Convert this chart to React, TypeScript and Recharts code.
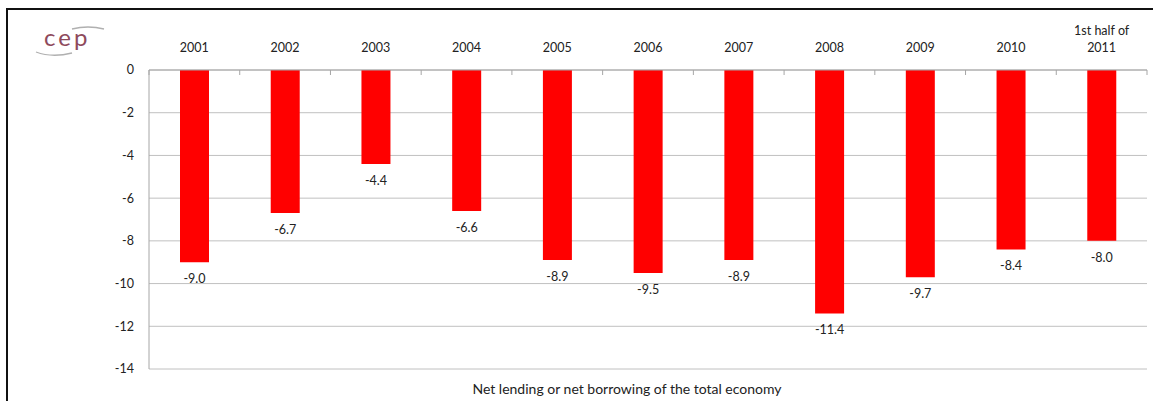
import { BarChart, Bar, XAxis, YAxis, CartesianGrid, LabelList } from 'recharts';

const years = ['2001', '2002', '2003', '2004', '2005', '2006', '2007', '2008', '2009', '2010', '1st half of|2011'];
const netLending = [-9.0, -6.7, -4.4, -6.6, -8.9, -9.5, -8.9, -11.4, -9.7, -8.4, -8.0];
const yTicks = [0, -2, -4, -6, -8, -10, -12, -14];
const chartTitle = 'Net lending or net borrowing of the total economy';

const data = years.map((year, i) => ({ year, value: netLending[i] }));

const FONT = 'Lato, "Open Sans", sans-serif';

// top axis label + boundary tick marks between categories
function YearTick(props: any) {
  const { x, y, payload, index, width, visibleTicksCount } = props;
  const band = width / visibleTicksCount;
  const lines = String(payload.value).split('|');
  const last = index === visibleTicksCount - 1;
  return (
    <g>
      <line x1={x - band / 2} x2={x - band / 2} y1={y} y2={y + 5} stroke="#a6a6a6" />
      {last && <line x1={x + band / 2} x2={x + band / 2} y1={y} y2={y + 5} stroke="#a6a6a6" />}
      {lines.map((l, i) => (
        <text
          key={i}
          x={x}
          y={y - 18 - (lines.length - 1 - i) * 17}
          textAnchor="middle"
          fontSize={12.5}
          fontFamily={FONT}
          fill="#222"
        >
          {l}
        </text>
      ))}
    </g>
  );
}

function ValueLabel(props: any) {
  const { x, y, width, height, value } = props;
  const bottom = Math.max(y, y + height);
  return (
    <text
      x={x + width / 2}
      y={bottom + 21}
      textAnchor="middle"
      fontSize={12.5}
      fontFamily={FONT}
      fill="#222"
    >
      {Number(value).toFixed(1)}
    </text>
  );
}

export default function App() {
  return (
    <div style={{ position: 'absolute', left: 0, top: 0, width: 1153, height: 401, background: '#fff', overflow: 'hidden' }}>
      {/* frame: top and left edges only */}
      <div style={{ position: 'absolute', left: 6, top: 8, width: 1147, height: 2, background: '#111' }} />
      <div style={{ position: 'absolute', left: 6, top: 8, width: 2, height: 393, background: '#111' }} />
      {/* logo */}
      <svg style={{ position: 'absolute', left: 30, top: 20 }} width={80} height={42}>
        <path d="M 42 9 Q 58 5 74 9" stroke="#b0b0b0" strokeWidth={1.3} fill="none" />
        <text x={14} y={26} fontSize={24} fontFamily={FONT} fill="#8e4a5c" letterSpacing={3}>cep</text>
        <path d="M 6 32 Q 22 38 42 33" stroke="#b0b0b0" strokeWidth={1.3} fill="none" />
      </svg>
      <BarChart
        width={1153}
        height={401}
        data={data}
        margin={{ top: 0, right: 6, bottom: 32, left: 0 }}
        style={{ position: 'absolute', left: 0, top: 0 }}
      >
        <CartesianGrid vertical={false} stroke="#c0c0c0" />
        <XAxis
          dataKey="year"
          orientation="top"
          height={70}
          interval={0}
          tickLine={false}
          tickSize={0}
          tickMargin={0}
          axisLine={{ stroke: '#a6a6a6' }}
          tick={<YearTick />}
        />
        <YAxis
          width={149}
          domain={[-14, 0]}
          ticks={yTicks}
          interval={0}
          tickLine={false}
          tickSize={0}
          tickMargin={15}
          axisLine={{ stroke: '#a6a6a6' }}
          tick={{ fontSize: 12.5, fontFamily: FONT, fill: '#222' }}
        />
        <Bar dataKey="value" fill="#ff0000" barSize={29} isAnimationActive={false}>
          <LabelList dataKey="value" content={<ValueLabel />} />
        </Bar>
      </BarChart>
      <div
        style={{
          position: 'absolute',
          left: 627,
          top: 380,
          transform: 'translateX(-50%)',
          whiteSpace: 'nowrap',
          fontSize: 14,
          fontFamily: FONT,
          color: '#222',
        }}
      >
        {chartTitle}
      </div>
    </div>
  );
}
